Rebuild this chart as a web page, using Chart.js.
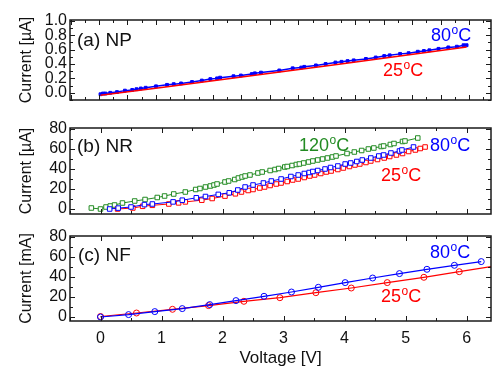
<!DOCTYPE html>
<html>
<head>
<meta charset="utf-8">
<script src="https://cdn.jsdelivr.net/npm/chart.js@4.4.0/dist/chart.umd.min.js"></script>
<style>
  html, body { margin: 0; padding: 0; background: #fff; }
  #wrap { position: relative; width: 496px; height: 367px; }
  #wrap canvas { position: absolute; left: 0; top: 0; }
</style>
</head>
<body>
<div id="wrap">
  <canvas id="chartNP" width="496" height="367"></canvas>
  <canvas id="chartNR" width="496" height="367"></canvas>
  <canvas id="chartNF" width="496" height="367"></canvas>
</div>
<script>
// (a) NP, current in uA
const npVolt80 = [0, 0.04, 0.08, 0.16, 0.27, 0.40, 0.52, 0.59, 0.66, 0.74, 0.91, 1.09, 1.20, 1.32, 1.50, 1.66, 1.80, 1.91, 1.96, 2.18, 2.30, 2.48, 2.53, 2.63, 2.93, 3.15, 3.29, 3.34, 3.53, 3.69, 3.85, 3.95, 4.05, 4.15, 4.35, 4.51, 4.65, 4.74, 4.91, 5.05, 5.20, 5.30, 5.39, 5.54, 5.70, 5.84, 5.95, 6.00];
const npCur80 = [-0.02, -0.01, -0.01, 0.00, 0.01, 0.03, 0.04, 0.05, 0.06, 0.07, 0.09, 0.11, 0.12, 0.13, 0.15, 0.17, 0.19, 0.20, 0.21, 0.23, 0.24, 0.26, 0.27, 0.28, 0.31, 0.34, 0.35, 0.36, 0.38, 0.40, 0.42, 0.43, 0.44, 0.45, 0.47, 0.49, 0.51, 0.52, 0.54, 0.55, 0.57, 0.58, 0.59, 0.61, 0.63, 0.64, 0.66, 0.66];
const npVolt25 = [0, 1, 2, 3, 4, 5, 6];
const npCur25 = [-0.035, 0.075, 0.185, 0.295, 0.405, 0.52, 0.635];

// (b) NR, current in uA
const nrVolt120 = [-0.15, 0, 0.09, 0.16, 0.23, 0.36, 0.56, 0.73, 0.93, 1.05, 1.20, 1.39, 1.56, 1.63, 1.72, 1.80, 1.86, 1.91, 2.04, 2.10, 2.20, 2.26, 2.32, 2.37, 2.45, 2.58, 2.65, 2.78, 2.86, 2.92, 3.02, 3.06, 3.14, 3.21, 3.26, 3.33, 3.41, 3.48, 3.56, 3.64, 3.72, 3.80, 3.86, 4.04, 4.16, 4.28, 4.39, 4.48, 4.60, 4.64, 4.75, 4.81, 4.95, 4.99, 5.20];
const nrCur120 = [1, 0, 2, 3, 4, 6, 8, 9.5, 11.5, 13, 15, 17, 19.5, 20.5, 22, 23, 24, 25, 27, 28, 29.5, 31, 32, 33, 34, 36, 37, 38.5, 39.5, 40.5, 42, 42.5, 43.5, 44.5, 45, 46, 47, 48, 49, 50, 51, 52, 53, 55.5, 57, 58.5, 60, 61, 62.5, 63, 64.5, 65.5, 67.5, 68, 71];
const nrVolt80 = [0.15, 0.29, 0.50, 0.72, 0.85, 1.19, 1.34, 1.57, 1.72, 1.93, 2.11, 2.25, 2.37, 2.50, 2.67, 2.80, 2.96, 3.12, 3.24, 3.34, 3.42, 3.48, 3.56, 3.68, 3.77, 3.89, 4.01, 4.10, 4.20, 4.29, 4.43, 4.56, 4.64, 4.76, 4.90, 4.94, 5.13];
const nrCur80 = [0, 0.9, 2, 4.4, 5, 7.1, 8.8, 11.2, 12.5, 14.6, 16.2, 19, 22, 24, 26, 28, 30, 32.5, 34, 35.5, 36.5, 37.5, 38.5, 40, 41.5, 43, 45, 46, 47.5, 49, 51, 53, 54, 56, 58, 59, 62];
const nrVolt25 = [0.28, 0.53, 0.69, 0.85, 1.12, 1.28, 1.39, 1.66, 1.83, 2.04, 2.21, 2.31, 2.42, 2.50, 2.61, 2.69, 2.78, 2.88, 2.96, 3.06, 3.15, 3.24, 3.34, 3.43, 3.51, 3.61, 3.70, 3.78, 3.89, 3.98, 4.08, 4.17, 4.25, 4.35, 4.43, 4.54, 4.65, 4.74, 4.85, 4.95, 5.05, 5.16, 5.24, 5.32];
const nrCur25 = [0, 1, 2.7, 3.7, 5, 6.1, 7.1, 8.8, 10.5, 12.9, 15.2, 17, 18.5, 19.5, 21, 22, 23.5, 25, 26, 27.5, 29, 30, 31.5, 33, 34, 35.5, 37, 38, 39.5, 41, 42.5, 44, 45, 46.5, 48, 49.5, 51, 52.5, 54, 55.5, 57.5, 59, 60.5, 62];

// (c) NF, current in mA
const nfVolt80 = [0, 0.46, 0.89, 1.34, 1.79, 2.22, 2.68, 3.13, 3.57, 4.01, 4.46, 4.90, 5.35, 5.80, 6.24];
const nfCur80 = [0, 2.4, 5.4, 8.4, 12.4, 16.4, 20.7, 25, 29.7, 34.4, 39, 43.4, 47.7, 51.7, 55.4];
const nfVolt25 = [0, 0.59, 1.18, 1.77, 2.35, 2.94, 3.53, 4.11, 4.70, 5.30, 5.88];
const nfCur25 = [0.5, 4, 7.7, 11.4, 15.7, 19.3, 24.3, 29, 34.4, 39.7, 45.3];
const nfTailVolt25 = [5.88, 6.4];
const nfTailCur25 = [45.3, 50.3];

// axes
const voltRange = [-0.5, 6.4];
const npCurRange = [-0.1, 1.01];
const nrCurRange = [-5, 81];
const nfCurRange = [-4, 81];

const BLUE = '#0000ff';
const RED = '#ff0000';
const GREEN = '#228b22';
const INK = '#111111';
const FONT = '"Liberation Sans", Arial, Helvetica, sans-serif';

Chart.defaults.font.family = FONT;
Chart.defaults.color = INK;

function pts(xs, ys) {
    return xs.map((x, i) => ({ x: x, y: ys[i] }));
}

// inward ticks, major and minor, on all four sides
function tickList(min, max, start, step) {
    const list = [];
    const k0 = Math.ceil((min - start) / step - 1e-6);
    for (let k = k0; start + k * step <= max + 1e-6; k++) {
        list.push({ v: start + k * step, major: Math.abs(k) % 2 === 0 });
    }
    return list;
}

const frame = {
    id: 'frame',
    afterDatasetsDraw(chart, args, o) {
        const ctx = chart.ctx;
        const a = chart.chartArea;
        const xs = chart.scales.x, ys = chart.scales.y;
        ctx.save();
        ctx.strokeStyle = '#1a1a1a';
        ctx.lineWidth = 1;
        ctx.beginPath();
        tickList(xs.min, xs.max, o.xStart, o.xStep / 2).forEach(t => {
            const px = Math.round(xs.getPixelForValue(t.v)) + 0.5;
            const len = t.major ? 5 : 3;
            ctx.moveTo(px, a.bottom); ctx.lineTo(px, a.bottom - len);
            ctx.moveTo(px, a.top); ctx.lineTo(px, a.top + len);
        });
        tickList(ys.min, ys.max, 0, o.yStep / 2).forEach(t => {
            const py = Math.round(ys.getPixelForValue(t.v)) + 0.5;
            const len = t.major ? 5 : 3;
            ctx.moveTo(a.left, py); ctx.lineTo(a.left + len, py);
            ctx.moveTo(a.right, py); ctx.lineTo(a.right - len, py);
        });
        ctx.stroke();
        ctx.lineWidth = 1.5;
        ctx.strokeRect(a.left, a.top, a.right - a.left, a.bottom - a.top);
        ctx.restore();
    }
};

// panel names and temperature labels (with superscript o)
const notes = {
    id: 'notes',
    afterDraw(chart, args, o) {
        const ctx = chart.ctx;
        ctx.save();
        ctx.textAlign = 'left';
        ctx.textBaseline = 'alphabetic';
        (o.items || []).forEach(it => {
            ctx.fillStyle = it.color;
            let x = it.x;
            if (it.temp) {
                ctx.font = '18px ' + FONT;
                ctx.fillText(it.temp, x, it.y);
                x += ctx.measureText(it.temp).width + 0.5;
                ctx.font = '12px ' + FONT;
                ctx.fillText('o', x, it.y - 7);
                x += ctx.measureText('o').width;
                ctx.font = '18px ' + FONT;
                ctx.fillText('C', x, it.y);
            } else {
                ctx.font = '19px ' + FONT;
                ctx.fillText(it.text, x, it.y);
            }
        });
        ctx.restore();
    }
};

function makePanel(id, datasets, p) {
    return new Chart(document.getElementById(id), {
        type: 'line',
        data: { datasets: datasets },
        options: {
            responsive: false,
            animation: false,
            devicePixelRatio: 1,
            layout: { padding: { left: 0, right: 1, top: p.top, bottom: p.bottom } },
            plugins: {
                legend: { display: false },
                tooltip: { enabled: false },
                frame: { xStart: p.xStart, xStep: p.xStep, yStep: p.yStep },
                notes: { items: p.notes }
            },
            scales: {
                x: {
                    type: 'linear',
                    min: voltRange[0],
                    max: voltRange[1],
                    display: p.showX,
                    grid: { display: false, drawTicks: false },
                    border: { display: false },
                    ticks: {
                        stepSize: 1,
                        includeBounds: false,
                        autoSkip: false,
                        padding: 8,
                        font: { size: 16 },
                        color: INK
                    },
                    title: {
                        display: true,
                        text: 'Voltage [V]',
                        font: { size: 17, lineHeight: 1.05 },
                        color: INK,
                        padding: { top: 0, bottom: 0 }
                    },
                    afterFit: s => { s.height = p.showX ? 46 : 0; }
                },
                y: {
                    type: 'linear',
                    min: p.yRange[0],
                    max: p.yRange[1],
                    grid: { display: false, drawTicks: false },
                    border: { display: false },
                    ticks: {
                        stepSize: p.yStep,
                        includeBounds: false,
                        autoSkip: false,
                        padding: 3,
                        font: { size: 16 },
                        color: INK,
                        callback: p.yFmt
                    },
                    title: {
                        display: true,
                        text: p.yTitle,
                        font: { size: 16 },
                        color: INK,
                        padding: { top: 17, bottom: 0 }
                    },
                    afterFit: s => { s.width = 70; }
                }
            }
        },
        plugins: [frame, notes]
    });
}

function series(data, color, style, radius, lineWidth, fill) {
    return {
        data: data,
        borderColor: color,
        backgroundColor: color,
        borderWidth: lineWidth,
        pointStyle: style,
        pointRadius: radius,
        pointBorderColor: color,
        pointBackgroundColor: fill,
        pointBorderWidth: 1,
        tension: 0
    };
}

// (a)
makePanel('chartNP', [
    series(pts(npVolt25, npCur25), RED, 'circle', 0, 1.5, RED),
    series(pts(npVolt80, npCur80), BLUE, 'rect', 2, 1.5, BLUE)
], {
    top: 20, bottom: 267, showX: false,
    xStart: -0.025, xStep: 0.4667, yStep: 0.2,
    yRange: npCurRange, yTitle: 'Current [\u00b5A]',
    yFmt: v => v.toFixed(1),
    notes: [
        { text: '(a) NP', color: INK, x: 77, y: 46 },
        { temp: '80', color: BLUE, x: 431, y: 41 },
        { temp: '25', color: RED, x: 383, y: 76 }
    ]
});

// (b)
makePanel('chartNR', [
    series(pts(nrVolt80, nrCur80), BLUE, 'rect', 3.2, 1, '#ffffff'),
    series(pts(nrVolt25, nrCur25), RED, 'rect', 3.2, 1, '#ffffff'),
    series(pts(nrVolt120, nrCur120), GREEN, 'rect', 3.2, 1, '#ffffff')
], {
    top: 128, bottom: 153, showX: false,
    xStart: 0, xStep: 1, yStep: 20,
    yRange: nrCurRange, yTitle: 'Current [\u00b5A]',
    yFmt: v => v,
    notes: [
        { text: '(b) NR', color: INK, x: 77, y: 152 },
        { temp: '120', color: GREEN, x: 299, y: 151 },
        { temp: '80', color: BLUE, x: 430, y: 151 },
        { temp: '25', color: RED, x: 381, y: 181 }
    ]
});

// (c)
makePanel('chartNF', [
    series(pts(nfTailVolt25, nfTailCur25), RED, 'circle', 0, 1.2, RED),
    series(pts(nfVolt80, nfCur80), BLUE, 'circle', 3, 1.2, 'rgba(0,0,0,0)'),
    series(pts(nfVolt25, nfCur25), RED, 'circle', 3, 1.2, 'rgba(0,0,0,0)')
], {
    top: 236, bottom: 0, showX: true,
    xStart: 0, xStep: 1, yStep: 20,
    yRange: nfCurRange, yTitle: 'Current [mA]',
    yFmt: v => v,
    notes: [
        { text: '(c) NF', color: INK, x: 78, y: 261 },
        { temp: '80', color: BLUE, x: 430, y: 258 },
        { temp: '25', color: RED, x: 381, y: 302 }
    ]
});
</script>
</body>
</html>
